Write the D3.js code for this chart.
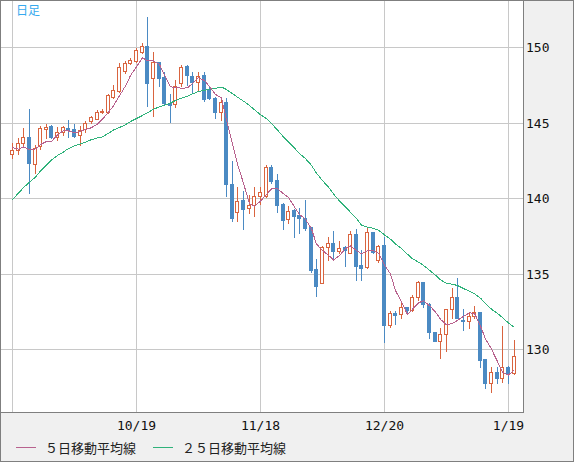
<!DOCTYPE html>
<html><head><meta charset="utf-8">
<script src="https://cdn.jsdelivr.net/npm/d3@7"></script>
<style>html,body{margin:0;padding:0;background:#f0f0f0;} svg{display:block;}</style>
</head><body><svg id="chart" width="574" height="462"></svg>
<script>
const dates = ["9/19","9/20","9/21","9/22","9/23","9/26","9/27","9/28","9/29","9/30",
"10/3","10/4","10/5","10/6","10/7","10/10","10/11","10/12","10/13","10/14","10/17","10/18","10/19","10/20","10/21","10/24","10/25","10/26","10/27","10/28","10/31",
"11/1","11/2","11/3","11/4","11/7","11/8","11/9","11/10","11/11","11/14","11/15","11/16","11/17","11/18","11/21","11/22","11/23","11/24","11/25","11/28","11/29","11/30",
"12/1","12/2","12/5","12/6","12/7","12/8","12/9","12/12","12/13","12/14","12/15","12/16","12/19","12/20","12/21","12/22","12/23","12/26","12/27","12/28","12/29","12/30",
"1/2","1/3","1/4","1/5","1/6","1/9","1/10","1/11","1/12","1/13","1/16","1/17","1/18","1/19","1/20"];
const openPrices = [142.89,143.17,143.65,144.02,142.25,143.44,144.58,144.76,144.02,144.39,
144.61,144.55,144.14,144.55,145.10,145.25,145.67,145.71,146.70,147.09,
148.43,148.92,149.09,149.68,150.07,147.97,148.98,148.04,146.31,146.20,
147.63,148.74,148.10,147.66,148.15,147.20,146.59,145.67,146.33,140.92,
139.05,139.86,139.32,139.53,140.13,140.15,142.04,141.19,139.60,138.58,
139.21,138.87,138.65,138.06,135.29,134.38,136.73,137.00,136.51,136.73,
136.38,137.61,135.56,135.41,137.74,135.90,136.88,131.58,132.36,132.29,
132.75,132.58,133.42,134.41,132.97,131.10,130.55,130.97,132.64,133.42,
131.92,131.84,132.18,132.43,129.33,127.76,128.50,128.10,128.83,128.39];
const highPrices = [143.61,143.95,144.61,145.89,143.50,144.76,144.87,144.83,144.72,144.76,
145.17,144.87,144.79,145.12,145.43,145.82,145.89,146.92,147.48,148.92,
149.07,149.29,149.94,150.24,151.96,149.66,149.02,148.36,146.92,147.81,
148.81,148.81,148.36,148.36,148.36,147.37,146.66,146.66,146.59,142.47,
140.70,140.48,140.19,140.70,140.70,142.19,142.19,141.58,139.64,139.47,
139.25,139.32,139.86,138.10,135.94,136.79,137.39,137.80,137.17,136.79,
137.80,137.95,136.55,138.10,137.76,136.88,137.43,132.51,132.51,133.03,
132.79,133.57,134.51,134.45,133.03,131.14,131.40,132.68,134.01,134.71,
132.64,132.47,132.87,132.47,129.37,128.83,128.83,131.53,128.89,130.59];
const lowPrices = [142.63,142.91,143.35,140.30,141.67,143.22,143.95,143.95,143.83,144.17,
144.06,144.02,143.50,144.39,144.99,145.21,145.61,145.61,146.59,147.04,
148.30,148.87,149.02,149.61,146.11,145.43,147.41,146.20,145.06,146.04,
147.41,147.48,147.04,147.15,146.44,146.53,145.28,145.17,140.15,138.49,
138.49,137.93,138.99,138.82,139.60,140.08,141.01,139.09,137.95,138.32,
137.43,137.65,137.87,135.12,133.53,134.34,135.90,136.01,136.34,135.49,
136.34,134.56,134.56,135.34,136.34,135.78,130.48,131.47,131.63,132.07,
132.29,132.51,133.24,132.79,130.71,130.53,129.42,129.89,132.03,132.03,
131.25,131.36,132.03,128.83,127.40,127.17,127.73,127.84,127.73,128.34];
const closePrices = [143.17,143.65,144.02,142.30,143.28,144.61,144.72,144.02,144.39,144.72,
144.50,144.12,144.50,144.99,145.34,145.69,145.76,146.79,147.13,148.65,
148.95,149.13,149.79,150.07,147.59,148.98,147.97,146.27,146.15,147.41,
148.69,148.15,147.66,148.08,146.55,146.59,145.67,146.37,140.91,138.65,
139.82,139.27,139.54,140.13,140.37,142.04,141.14,139.53,138.54,139.14,
138.82,138.65,138.03,135.23,134.17,136.73,137.00,136.51,136.67,136.55,
137.59,135.49,135.38,137.74,136.44,136.84,131.60,132.36,132.25,132.75,
132.58,133.42,134.41,132.96,131.10,130.55,130.97,132.64,133.42,132.07,
131.84,132.18,132.43,129.27,127.76,128.46,128.10,128.83,128.39,129.55];
const ma5Values = [143.38,143.26,143.41,143.23,143.28,143.57,143.78,143.78,144.21,144.49,
144.47,144.35,144.45,144.56,144.69,144.92,145.26,145.71,146.14,146.80,
147.46,148.14,148.73,149.32,149.11,149.11,148.88,148.18,147.39,147.36,
147.30,147.33,147.61,148.00,147.82,147.41,146.90,146.65,145.22,143.63,
142.29,141.01,139.64,139.48,139.83,140.27,140.64,140.64,140.32,140.07,
139.44,138.94,138.63,137.98,136.98,136.56,136.24,135.93,136.22,136.69,
136.86,136.56,136.34,136.55,136.53,136.38,135.60,135.00,133.90,133.17,
132.31,132.67,133.09,133.23,132.90,132.49,132.00,131.64,131.73,131.93,
132.19,132.43,132.39,131.55,130.70,130.02,129.20,128.49,128.31,128.67];
const ma25Values = [139.93,140.36,140.72,141.08,141.41,141.82,142.23,142.55,142.85,143.08,
143.31,143.48,143.63,143.73,143.90,144.01,144.08,144.32,144.54,144.70,
144.89,145.10,145.30,145.50,145.68,145.91,146.08,146.17,146.32,146.49,
146.65,146.78,146.93,147.08,147.16,147.24,147.30,147.38,147.22,146.94,
146.71,146.45,146.16,145.88,145.55,145.28,144.96,144.54,144.08,143.74,
143.34,142.97,142.64,142.20,141.67,141.19,140.75,140.30,139.84,139.44,
139.09,138.67,138.24,138.11,138.02,137.90,137.59,137.31,136.99,136.69,
136.31,136.01,135.79,135.57,135.25,134.92,134.61,134.39,134.32,134.24,
134.04,133.85,133.69,133.40,133.05,132.67,132.38,132.12,131.75,131.46];
const gridDates = ["9/19","10/19","11/18","12/20","1/19"];
const gridLabels = ["","10/19","11/18","12/20","1/19"];
const yTicks = [150,145,140,135,130];
const legendLabels = ["５日移動平均線","２５日移動平均線"];
const titleText = "日足";

const UP = "#d9643f", DOWN = "#4b8ac3", MA5C = "#b8628e", MA25C = "#2fb27a", GRID = "#c8c8c8", BORDER = "#7f7f7f";
const plotW = 523, plotH = 412;
const x = d3.scaleLinear().domain([0, 88]).range([12.5, 508.5]);
const y = d3.scaleLinear().domain([130, 150]).range([349, 47]);
const px = i => Math.floor(x(i));
const py = v => Math.round(y(v));

const svg = d3.select("#chart");
svg.append("rect").attr("x",0.5).attr("y",0.5).attr("width",573).attr("height",461)
  .attr("fill","#f0f0f0").attr("stroke",BORDER);
svg.append("rect").attr("x",0.5).attr("y",0.5).attr("width",plotW).attr("height",plotH)
  .attr("fill","#ffffff").attr("stroke",BORDER);

const grid = svg.append("g").attr("shape-rendering","crispEdges").attr("stroke",GRID);
grid.selectAll("line.h").data(yTicks).join("line").attr("class","h")
  .attr("x1",1).attr("x2",plotW).attr("y1",d=>py(d)+0.5).attr("y2",d=>py(d)+0.5);
const gridIdx = gridDates.map(d=>dates.indexOf(d));
grid.selectAll("line.v").data(gridIdx).join("line").attr("class","v")
  .attr("y1",1).attr("y2",plotH).attr("x1",d=>px(d)+0.5).attr("x2",d=>px(d)+0.5);

const candles = dates.map((d,i)=>({d,i,o:openPrices[i],h:highPrices[i],l:lowPrices[i],c:closePrices[i]}));
const cg = svg.append("g").attr("shape-rendering","crispEdges");
cg.selectAll("line.wick").data(candles).join("line").attr("class","wick")
  .attr("x1",d=>px(d.i)+0.5).attr("x2",d=>px(d.i)+0.5)
  .attr("y1",d=>py(d.h)).attr("y2",d=>py(d.l)+1)
  .attr("stroke",d=>d.c>=d.o?UP:DOWN).attr("stroke-width",1);
cg.selectAll("rect.down").data(candles.filter(d=>d.c<d.o)).join("rect").attr("class","down")
  .attr("x",d=>px(d.i)-2).attr("width",4)
  .attr("y",d=>py(d.o)).attr("height",d=>Math.max(1,py(d.c)-py(d.o)+1))
  .attr("fill",DOWN);
cg.selectAll("rect.up").data(candles.filter(d=>d.c>=d.o)).join("rect").attr("class","up")
  .attr("x",d=>px(d.i)-1.5).attr("width",3)
  .attr("y",d=>py(d.c)+0.5).attr("height",d=>Math.max(0,py(d.o)-py(d.c)))
  .attr("fill","#ffffff").attr("stroke",UP).attr("stroke-width",1);

const line = d3.line().x((v,i)=>px(i)+0.5).y(v=>y(v)+0.5);
svg.append("path").datum(ma25Values).attr("d",line).attr("fill","none")
  .attr("stroke",MA25C).attr("stroke-width",1).attr("shape-rendering","crispEdges");
svg.append("path").datum(ma5Values).attr("d",line).attr("fill","none")
  .attr("stroke",MA5C).attr("stroke-width",1).attr("shape-rendering","crispEdges");

const tickFont = "'DejaVu Sans Mono', 'Liberation Mono', monospace";
svg.append("g").selectAll("text").data(yTicks).join("text")
  .attr("x",526).attr("y",d=>py(d)+5).text(d=>d)
  .attr("font-family",tickFont).attr("font-size",13).attr("fill","#111");
svg.append("g").selectAll("text").data(gridIdx).join("text")
  .attr("x",d=>px(d)+0.5).attr("y",429.5).attr("text-anchor","middle")
  .text((d,k)=>gridLabels[k])
  .attr("font-family",tickFont).attr("font-size",13).attr("fill","#111");

svg.append("text").attr("x",16).attr("y",14.5).text(titleText)
  .attr("font-family","'Noto Sans CJK JP', sans-serif").attr("font-size",12).attr("fill","#36a9ee");

const legend = [{label:legendLabels[0],color:MA5C,x:16},{label:legendLabels[1],color:MA25C,x:153}];
const lg = svg.append("g");
lg.selectAll("line").data(legend).join("line")
  .attr("x1",d=>d.x).attr("x2",d=>d.x+20).attr("y1",447.5).attr("y2",447.5)
  .attr("stroke",d=>d.color).attr("stroke-width",1).attr("shape-rendering","crispEdges");
lg.selectAll("text").data(legend).join("text")
  .attr("x",d=>d.x+29).attr("y",453).text(d=>d.label)
  .attr("font-family","'Noto Sans CJK JP', sans-serif").attr("font-size",13).attr("fill","#222");
</script></body></html>
